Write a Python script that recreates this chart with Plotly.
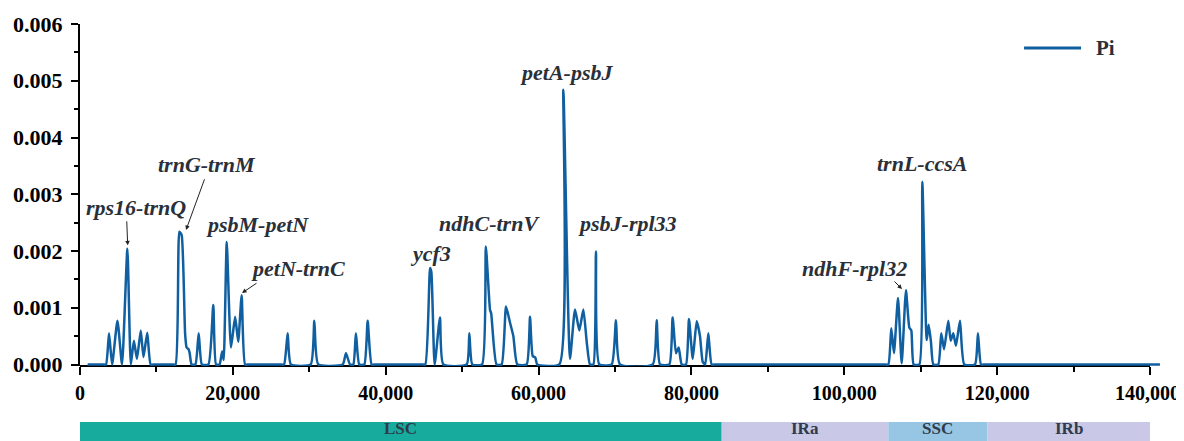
import plotly.graph_objects as go

# ---- data ----
position = [1000, 3000, 3400, 3800, 4200, 4900, 5500, 6200, 6650, 7050, 7450, 7950, 8300, 8800, 9250, 9800,
            12000, 12500, 13000, 13300, 13750, 13950, 14200, 14350, 14600,
            15100, 15530, 15950,
            16800, 17440, 17800,
            18250, 18600, 18800, 19200, 19750, 20300, 20700, 21150, 21600, 22100,
            26200, 26700, 27170, 27600,
            30180, 30660, 31180,
            34370, 34800, 35330,
            35760, 36100, 36540,
            37200, 37640, 38160, 38700,
            44700, 45180, 45800, 45970, 46400, 47100, 47540,
            50590, 50940, 51330,
            52600, 53100, 53650, 53800, 54500,
            55170, 55740, 56260, 56700, 57220,
            58440, 58880, 59230, 59580, 59830,
            62710, 63240, 64110, 64770, 65330, 65860, 66300, 66730,
            67170, 67510, 67950,
            69560, 70130, 70650,
            74930, 75450, 75890,
            77110, 77540, 77980, 78330, 78730,
            79290, 79680, 80170, 80690, 81120, 81470, 81800, 82210, 82650, 83200,
            105200, 105760, 106150, 106500, 107030, 107510, 108070, 108510, 108770, 109080,
            109820, 110210, 110780, 111040, 111340, 111650,
            112300, 112690, 113050, 113610, 113920, 114260, 114610, 115140, 115700,
            117100, 117490, 117890, 118400,
            140500, 141300]

pi_values = [0, 0, 0, 0.00055, 0, 0.00077, 0, 0.00204, 0, 0.00042, 0.00010, 0.00060, 0.00013, 0.00056, 0, 0,
             0, 0, 0.00234, 0.00228, 0.00055, 0.00030, 0.00027, 0.00020, 0,
             0, 0.00055, 0,
             0, 0.00105, 0,
             0, 0.00023, 0.00008, 0.00216, 0.00030, 0.00084, 0.00040, 0.00122, 0, 0,
             0, 0, 0.00055, 0,
             0, 0.00077, 0,
             0, 0.00020, 0,
             0, 0.00055, 0,
             0, 0.00077, 0, 0,
             0, 0, 0.00170, 0.00163, 0, 0.00083, 0,
             0, 0.00055, 0,
             0, 0.00208, 0.00096, 0.00090, 0,
             0, 0.00102, 0.00074, 0.00050, 0,
             0, 0.00084, 0.00015, 0.00012, 0,
             0, 0.00484, 0.00010, 0.00097, 0.00060, 0.00097, 0.00040, 0,
             0, 0.00199, 0,
             0, 0.00078, 0,
             0, 0.00078, 0,
             0, 0.00083, 0.00020, 0.00030, 0,
             0, 0.00080, 0.00010, 0.00076, 0.00050, 0.00005, 0, 0.00055, 0, 0,
             0, 0, 0.00064, 0.00020, 0.00117, 0.00002, 0.00131, 0.00065, 0.00060, 0,
             0, 0.00322, 0.00043, 0.00070, 0.00040, 0,
             0, 0.00055, 0.00027, 0.00077, 0.00042, 0.00055, 0.00033, 0.00077, 0,
             0, 0.00055, 0, 0,
             0, 0]

region_names = ["LSC", "IRa", "SSC", "IRb"]
region_start = [0, 83960, 105760, 118710]
region_end = [83960, 105760, 118710, 140000]
region_colors = ["#17ab9e", "#c9c8e6", "#97c6e4", "#c9c8e6"]

hotspot_labels = ["rps16-trnQ", "trnG-trnM", "psbM-petN", "petN-trnC", "ycf3",
                  "ndhC-trnV", "petA-psbJ", "psbJ-rpl33", "trnL-ccsA", "ndhF-rpl32"]

x_ticks = [0, 20000, 40000, 60000, 80000, 100000, 120000, 140000]
y_ticks = [0.000, 0.001, 0.002, 0.003, 0.004, 0.005, 0.006]

# ---- layout parameters ----
label_pos = [(7330, 0.00276), (16620, 0.00352), (23220, 0.00246), (28460, 0.00170),
             (45920, 0.00196), (53640, 0.00249), (63590, 0.00514), (71700, 0.00249),
             (110170, 0.00355), (101400, 0.00170)]
arrows = [((6110, 0.00255), (6240, 0.00210)),
          ((16360, 0.00329), (13870, 0.00237)),
          ((23290, 0.00145), (21200, 0.00126)),
          ((106370, 0.00149), (107550, 0.00133))]

LINE_COLOR = "#105fa0"
TEXT_DARK = "#2a3039"
SERIF = "Liberation Serif, Times New Roman, serif"
TICK_FONT = dict(family=SERIF, size=20, color="black", weight="bold")

fig = go.Figure()
fig.add_trace(go.Scatter(x=position, y=pi_values, mode="lines", name="Pi", showlegend=False,
                         line=dict(color=LINE_COLOR, width=2.5, shape="spline", smoothing=0.5)))

annotations = []
for txt, (lx, ly) in zip(hotspot_labels, label_pos):
    annotations.append(dict(x=lx, y=ly, xref="x", yref="y", text=txt, showarrow=False,
                            font=dict(family=SERIF, size=22, color=TEXT_DARK,
                                      weight="bold", style="italic")))
for (tx, ty), (hx, hy) in arrows:
    annotations.append(dict(x=hx, y=hy, ax=tx, ay=ty, xref="x", yref="y", axref="x", ayref="y",
                            text="", showarrow=True, arrowhead=2, arrowsize=0.9,
                            arrowwidth=1, arrowcolor="#222222"))

shapes = []
for name, s, e, c in zip(region_names, region_start, region_end, region_colors):
    shapes.append(dict(type="rect", xref="x", yref="paper", x0=s, x1=e, y0=-0.40, y1=-0.1637,
                       fillcolor=c, line=dict(width=0), layer="above"))
    annotations.append(dict(x=(s + e) / 2, y=-0.2164, xref="x", yref="paper", text=name,
                            showarrow=False, yanchor="bottom",
                            font=dict(family=SERIF, size=17, color="#2f3a4a", weight="bold")))
# x axis line ending at 140,000
shapes.append(dict(type="line", xref="x", yref="paper", x0=0, x1=140000, y0=0, y1=0,
                   line=dict(color="black", width=2), layer="below"))

# manual legend (line sample + label)
shapes.append(dict(type="line", xref="paper", yref="paper", x0=0.8725, x1=0.9252,
                   y0=0.93, y1=0.93, line=dict(color=LINE_COLOR, width=3)))
annotations.append(dict(x=0.937, y=0.93, xref="paper", yref="paper", text="Pi",
                        showarrow=False, xanchor="left", yanchor="middle",
                        font=dict(family=SERIF, size=21, color=TEXT_DARK, weight="bold")))

# last x tick label placed as right-aligned text so that it stays inside the page
x_ticktext = [f"{v:,}" for v in x_ticks]
last_label = x_ticktext[-1]
x_ticktext[-1] = ""
annotations.append(dict(x=1.0185, y=-0.078, xref="paper", yref="paper", text=last_label,
                        showarrow=False, xanchor="right", yanchor="middle", font=TICK_FONT))

# the page body has an 8px default margin, so the figure is offset by (8, 8)
fig.update_layout(
    width=1176, height=433,
    margin=dict(l=72, r=22, t=16, b=75),
    plot_bgcolor="white", paper_bgcolor="white",
    showlegend=False,
    shapes=shapes,
    annotations=annotations,
    xaxis=dict(range=[0, 141570], automargin=False, showgrid=False, zeroline=False, showline=False,
               tickmode="array", tickvals=x_ticks, ticktext=x_ticktext,
               ticks="outside", ticklen=8, tickwidth=2, tickcolor="black",
               ticklabelstandoff=1, ticklabeloverflow="allow",
               minor=dict(tickmode="array", tickvals=[10000, 30000, 50000, 70000, 90000, 110000, 130000],
                          ticks="outside", ticklen=5, tickwidth=2, tickcolor="black"),
               tickfont=TICK_FONT),
    yaxis=dict(range=[-0.0000264, 0.006], automargin=False, showgrid=False, zeroline=False,
               showline=True, linecolor="black", linewidth=2,
               tickmode="array", tickvals=y_ticks,
               ticktext=[f"{v:.3f}" for v in y_ticks],
               ticks="outside", ticklen=7, tickwidth=2, tickcolor="black",
               ticklabelstandoff=4, ticklabeloverflow="allow",
               minor=dict(tickmode="array", tickvals=[0.0005, 0.0015, 0.0025, 0.0035, 0.0045, 0.0055],
                          ticks="outside", ticklen=4, tickwidth=2, tickcolor="black"),
               tickfont=dict(family=SERIF, size=22, color="black", weight="bold")),
)

fig.write_html("out.html")
